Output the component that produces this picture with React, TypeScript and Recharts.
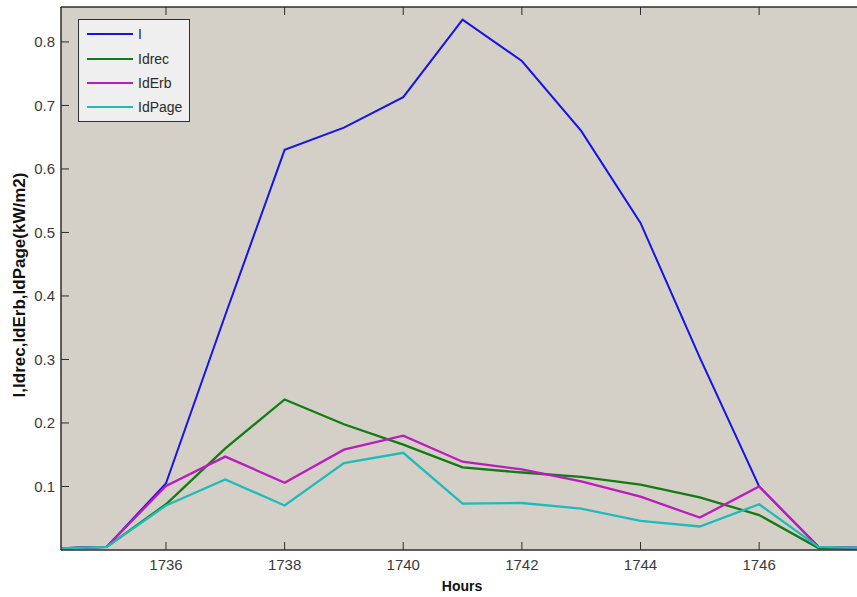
import { LineChart, Line, XAxis, YAxis, CartesianGrid } from 'recharts';

const hours = [1734, 1735, 1736, 1737, 1738, 1739, 1740, 1741, 1742, 1743, 1744, 1745, 1746, 1747, 1748];
const seriesI = [0.002, 0.005, 0.105, 0.37, 0.63, 0.665, 0.713, 0.835, 0.77, 0.66, 0.515, 0.303, 0.1, 0.005, 0.003];
const seriesIdrec = [0.002, 0.005, 0.072, 0.16, 0.237, 0.198, 0.166, 0.13, 0.122, 0.115, 0.103, 0.083, 0.055, 0.003, 0.002];
const seriesIdErb = [0.002, 0.005, 0.101, 0.147, 0.106, 0.158, 0.18, 0.139, 0.127, 0.108, 0.084, 0.051, 0.1, 0.005, 0.003];
const seriesIdPage = [0.002, 0.005, 0.07, 0.111, 0.07, 0.137, 0.153, 0.073, 0.074, 0.065, 0.046, 0.037, 0.072, 0.005, 0.003];
const xTicks = [1736, 1738, 1740, 1742, 1744, 1746];
const yTicks = [0.1, 0.2, 0.3, 0.4, 0.5, 0.6, 0.7, 0.8];

const series = [
  { key: 'I', color: '#1414e6' },
  { key: 'Idrec', color: '#127c12' },
  { key: 'IdErb', color: '#bc1cbc' },
  { key: 'IdPage', color: '#1fbaba' },
];

const data = hours.map((h, i) => ({
  hour: h,
  I: seriesI[i],
  Idrec: seriesIdrec[i],
  IdErb: seriesIdErb[i],
  IdPage: seriesIdPage[i],
}));

const font = '"Liberation Sans", Arial, sans-serif';
const axisColor = '#2e2e2e';

const BottomTick = (props: any) => {
  const { x, y, payload } = props;
  return (
    <g>
      <line x1={x} y1={y} x2={x} y2={y - 8} stroke={axisColor} strokeWidth={1} />
      <text x={x} y={y + 20} textAnchor="middle" fontSize={15} fontFamily={font} fill="#3a3a3a">
        {payload.value}
      </text>
    </g>
  );
};

const TopTick = (props: any) => {
  const { x, y } = props;
  return <line x1={x} y1={y} x2={x} y2={y + 8} stroke={axisColor} strokeWidth={1} />;
};

const LeftTick = (props: any) => {
  const { x, y, payload } = props;
  return (
    <g>
      <line x1={x} y1={y} x2={x + 8} y2={y} stroke={axisColor} strokeWidth={1} />
      <text x={x - 6} y={y + 5.5} textAnchor="end" fontSize={15} fontFamily={font} fill="#3a3a3a">
        {payload.value.toFixed(1)}
      </text>
    </g>
  );
};

const LegendBox = () => (
  <div
    style={{
      position: 'absolute',
      left: 78,
      top: 19,
      width: 110,
      height: 99,
      background: '#efefef',
      border: '1px solid #2e2e2e',
      paddingTop: 2,
    }}
  >
    {series.map((s) => (
      <div key={s.key} style={{ display: 'flex', alignItems: 'center', height: 24.4 }}>
        <div style={{ width: 46, height: 2, background: s.color, marginLeft: 8, marginRight: 5 }} />
        <span style={{ fontFamily: font, fontSize: 14, color: '#2a2a2a' }}>{s.key}</span>
      </div>
    ))}
  </div>
);

export default function App() {
  return (
    <div style={{ position: 'absolute', left: 0, top: 0, width: 857, height: 597, background: '#ffffff' }}>
      <LineChart width={857} height={597} data={data} margin={{ top: 6, right: 0, bottom: 46, left: 60 }}>
        <CartesianGrid horizontal={false} vertical={false} fill="#d4d0c8" />
        <XAxis
          dataKey="hour"
          type="number"
          domain={[1734.23, 1747.65]}
          allowDataOverflow
          ticks={xTicks}
          tickSize={0}
          tickMargin={0}
          tick={<BottomTick />}
          axisLine={{ stroke: axisColor, strokeWidth: 1.5 }}
          tickLine={false}
          height={1}
        />
        <XAxis
          xAxisId="top"
          orientation="top"
          dataKey="hour"
          type="number"
          domain={[1734.23, 1747.65]}
          allowDataOverflow
          ticks={xTicks}
          tickSize={0}
          tickMargin={0}
          tick={<TopTick />}
          axisLine={{ stroke: axisColor, strokeWidth: 1.5 }}
          tickLine={false}
          height={1}
        />
        <YAxis
          type="number"
          domain={[0, 0.855]}
          allowDataOverflow
          ticks={yTicks}
          tickSize={0}
          tickMargin={0}
          tick={<LeftTick />}
          axisLine={{ stroke: axisColor, strokeWidth: 1.5 }}
          tickLine={false}
          width={1}
        />
        {series.map((s) => (
          <Line
            key={s.key}
            type="linear"
            dataKey={s.key}
            stroke={s.color}
            strokeWidth={s.key === 'I' ? 2 : 2.3}
            dot={false}
            activeDot={false}
            isAnimationActive={false}
          />
        ))}
      </LineChart>
      <LegendBox />
      <div
        style={{
          position: 'absolute',
          left: 20,
          top: 285,
          transform: 'translate(-50%, -50%) rotate(-90deg)',
          whiteSpace: 'nowrap',
          fontFamily: font,
          fontWeight: 'bold',
          fontSize: 17,
          color: '#111',
        }}
      >
        I,Idrec,IdErb,IdPage(kW/m2)
      </div>
      <div
        style={{
          position: 'absolute',
          left: 462,
          top: 586,
          transform: 'translate(-50%, -50%)',
          fontFamily: font,
          fontWeight: 'bold',
          fontSize: 14,
          color: '#111',
        }}
      >
        Hours
      </div>
    </div>
  );
}
